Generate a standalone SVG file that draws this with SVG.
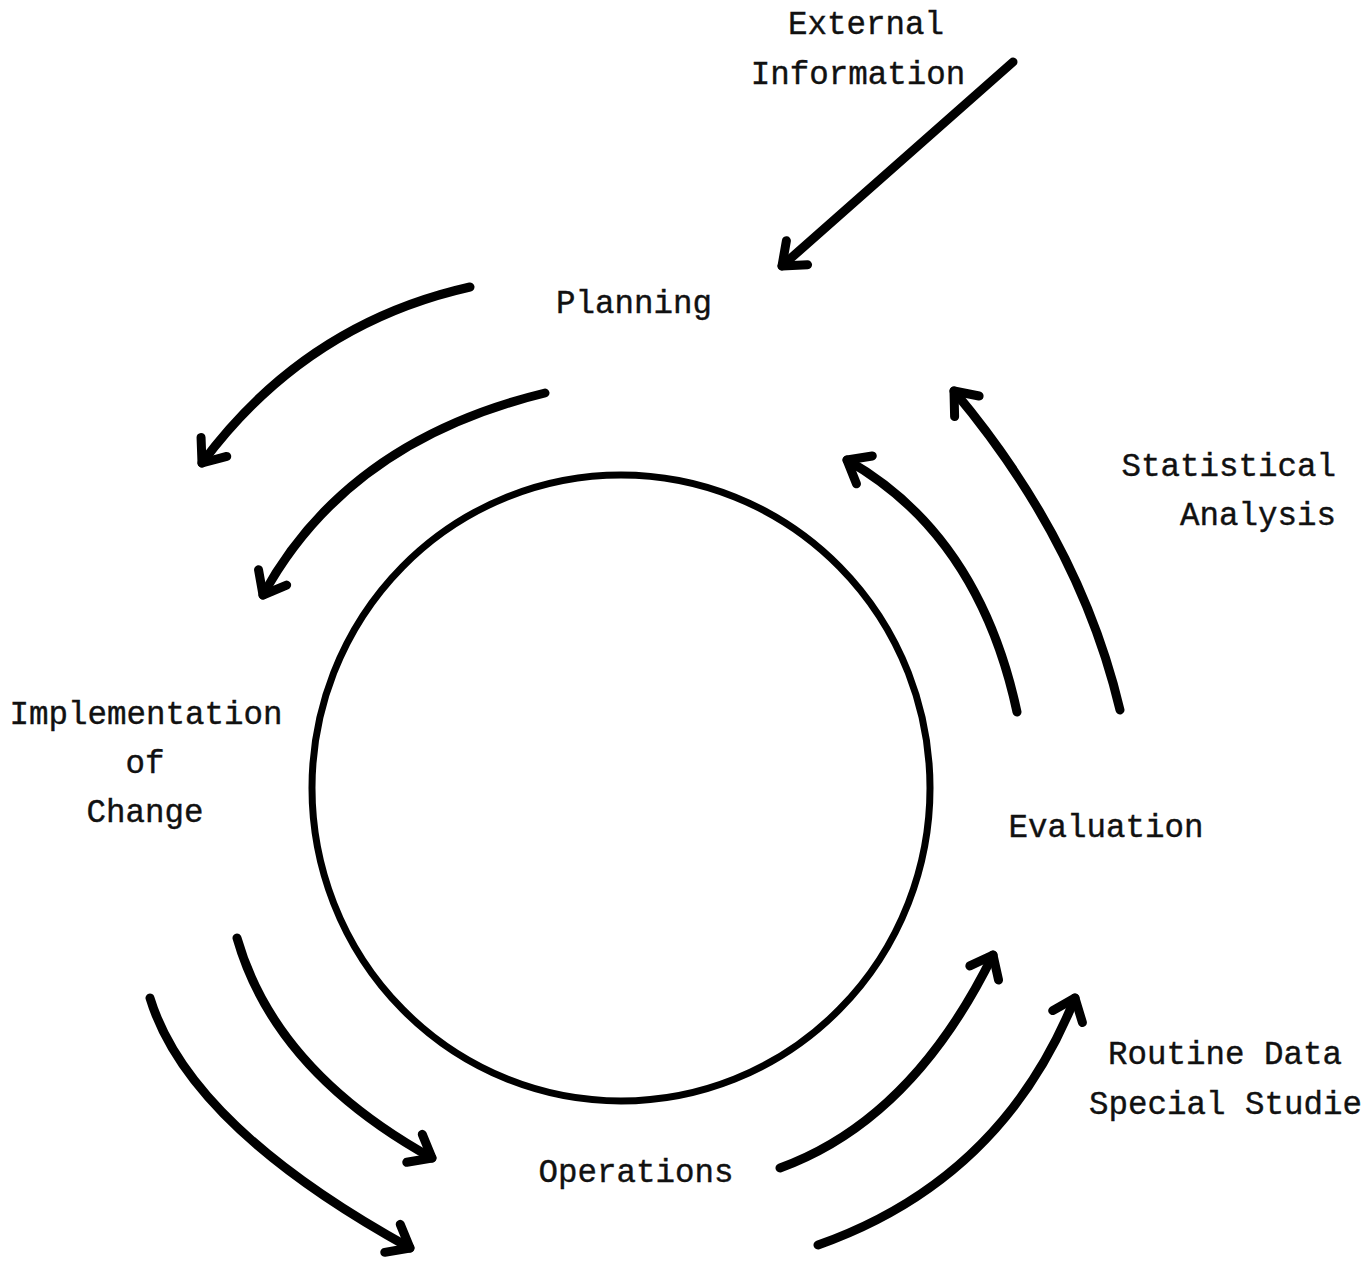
<svg xmlns="http://www.w3.org/2000/svg" width="1368" height="1263" viewBox="0 0 1368 1263">
  <defs>
    <style>
      .lbl { font-family: "Liberation Mono", "Courier New", monospace; font-size: 32.5px; fill: #111; stroke: #111; stroke-width: 0.4px; }
      .mid { text-anchor: middle; }
      .end { text-anchor: end; }
      .flow { fill: none; stroke: #000; stroke-width: 9; stroke-linecap: round; marker-end: url(#head); }
      .ring { fill: none; stroke: #000; stroke-width: 7; }
    </style>
    <marker id="head" markerUnits="userSpaceOnUse" viewBox="-40 -30 50 60" refX="0" refY="0" markerWidth="50" markerHeight="60" orient="auto">
      <path d="M -20 -16 L 0 0 L -20 16" fill="none" stroke="#000" stroke-width="9" stroke-linecap="round" stroke-linejoin="round"/>
    </marker>
  </defs>
  <rect width="1368" height="1263" fill="#fff"/>

  <g id="cycle">
    <ellipse class="ring" cx="621" cy="788" rx="309" ry="313"/>
  </g>

  <g id="connectors">
    <path id="external-in" class="flow" d="M 1013 62 L 782 266"/>
    <path id="plan-outer" class="flow" d="M 470 287 Q 305 324 202 463"/>
    <path id="plan-inner" class="flow" d="M 545 393 Q 347 441 263 595"/>
    <path id="eval-inner" class="flow" d="M 1017 712 Q 979 535 847 460"/>
    <path id="eval-outer" class="flow" d="M 1120 710 Q 1080 541 954 391"/>
    <path id="impl-inner" class="flow" d="M 237 938 Q 275 1071 432 1158"/>
    <path id="impl-outer" class="flow" d="M 150 998 Q 189 1126 410 1248"/>
    <path id="ops-inner" class="flow" d="M 780 1168 Q 912 1120 993 955"/>
    <path id="ops-outer" class="flow" d="M 818 1245 Q 1002 1180 1075 998"/>
  </g>

  <g id="external-information">
    <text class="lbl mid" x="866" y="34">External</text>
    <text class="lbl mid" x="858" y="84">Information</text>
  </g>
  <g id="planning">
    <text class="lbl mid" x="634" y="313">Planning</text>
  </g>
  <g id="statistical-analysis">
    <text class="lbl end" x="1336" y="476">Statistical</text>
    <text class="lbl end" x="1336" y="525">Analysis</text>
  </g>
  <g id="implementation">
    <text class="lbl mid" x="146" y="724">Implementation</text>
    <text class="lbl mid" x="145" y="773">of</text>
    <text class="lbl mid" x="145" y="822">Change</text>
  </g>
  <g id="evaluation">
    <text class="lbl mid" x="1106" y="837">Evaluation</text>
  </g>
  <g id="data-sources">
    <text class="lbl" x="1108" y="1064">Routine Data</text>
    <text class="lbl" x="1089" y="1114">Special Studie</text>
  </g>
  <g id="operations">
    <text class="lbl mid" x="636" y="1182">Operations</text>
  </g>
</svg>
